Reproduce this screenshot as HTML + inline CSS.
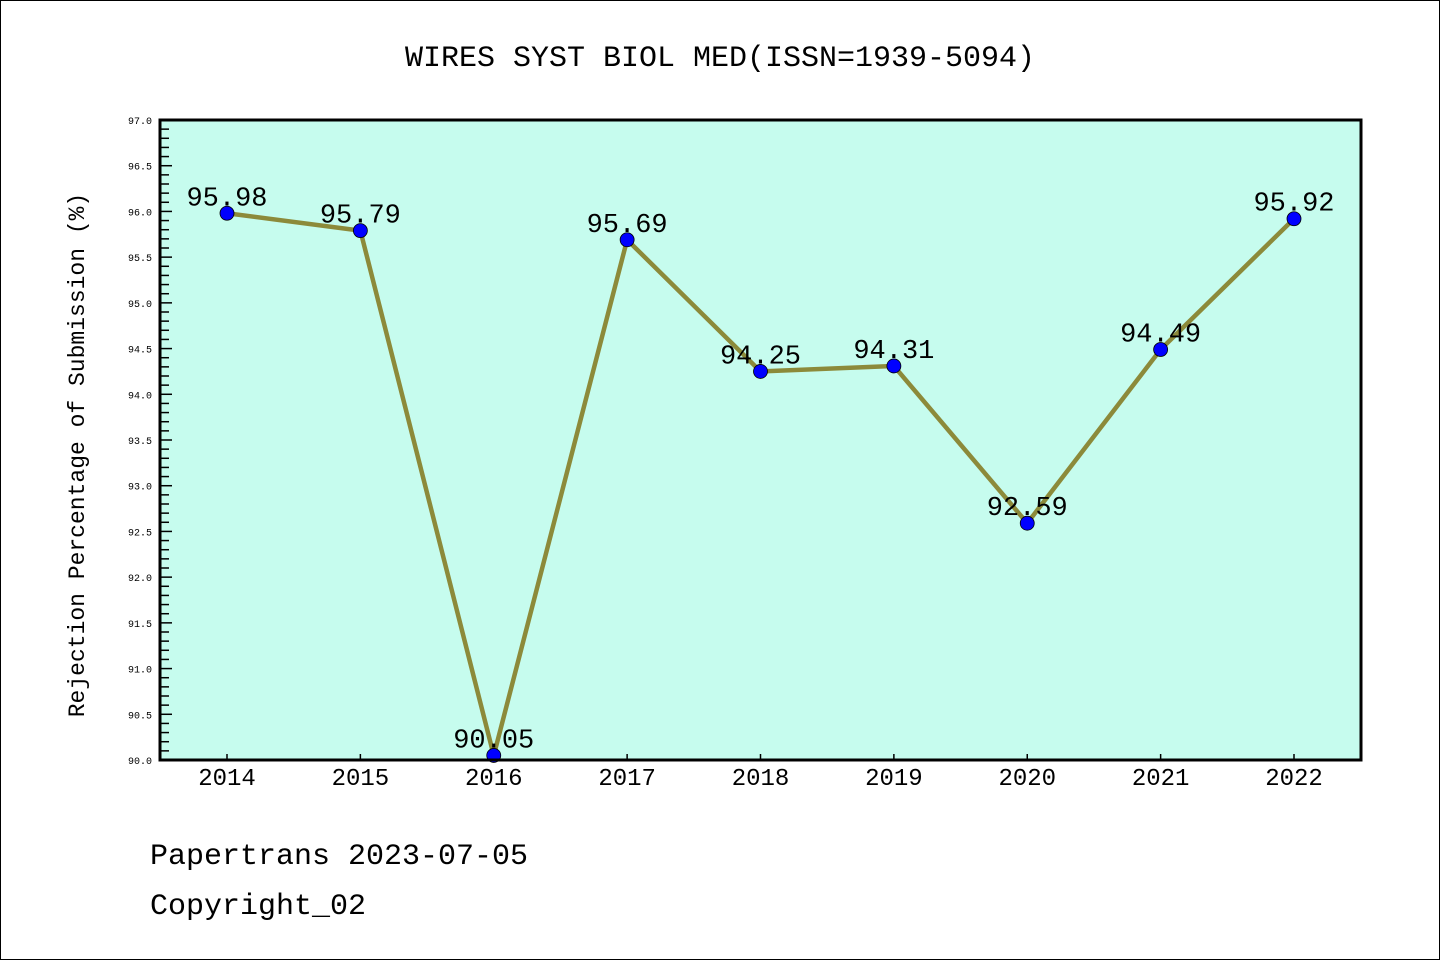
<!DOCTYPE html>
<html><head><meta charset="utf-8"><style>
body{margin:0;background:#fff}
svg text{font-family:"Liberation Mono","DejaVu Sans Mono",monospace}
</style></head><body>
<svg id="chart" width="1440" height="960" xmlns="http://www.w3.org/2000/svg">
<rect x="0.5" y="0.5" width="1439" height="959" fill="#fff" stroke="#000"/>
<text x="720" y="66" font-size="30" text-anchor="middle">WIRES SYST BIOL MED(ISSN=1939-5094)</text>
<rect x="160" y="120" width="1201" height="640" fill="#c6fcee"/>
<g id="ticks"></g>
<g id="series"></g>
<rect x="160" y="120" width="1201" height="640" fill="none" stroke="#000" stroke-width="3"/>
<text transform="translate(84,455) rotate(-90)" font-size="23" text-anchor="middle">Rejection Percentage of Submission (%)</text>
<text x="150" y="864" font-size="30">Papertrans 2023-07-05</text>
<text x="150" y="914" font-size="30">Copyright_02</text>
</svg>
<script>
const years=[2014,2015,2016,2017,2018,2019,2020,2021,2022];
const values=[95.98,95.79,90.05,95.69,94.25,94.31,92.59,94.49,95.92];
const valueLabels=["95.98","95.79","90.05","95.69","94.25","94.31","92.59","94.49","95.92"];
const yTicks=["90.0","90.5","91.0","91.5","92.0","92.5","93.0","93.5","94.0","94.5","95.0","95.5","96.0","96.5","97.0"];
const NS="http://www.w3.org/2000/svg";
const x0=160,x1=1361,y0=760,y1=120,ymin=90,ymax=97;
const xs=i=>227+i*(1294-227)/(years.length-1);
const ys=v=>y0-(v-ymin)/(ymax-ymin)*(y0-y1);
function mk(t,a,p){const e=document.createElementNS(NS,t);for(const k in a)e.setAttribute(k,a[k]);p.appendChild(e);return e;}
const tg=document.getElementById('ticks'),sg=document.getElementById('series');
for(let k=0;k<=70;k++){const v=ymin+k*0.1,y=ys(v),maj=k%5==0;
const l=mk('line',{x1:x0,x2:x0+(maj?12:9),y1:y,y2:y,stroke:'#000','stroke-width':1.5},tg);

}
yTicks.forEach(s=>{const t=mk('text',{x:152,y:ys(parseFloat(s))+4,'font-size':10,'text-anchor':'end','font-family':'Liberation Sans, sans-serif'},tg);t.textContent=s;

});
years.forEach((yr,i)=>{const l=mk('line',{x1:xs(i),x2:xs(i),y1:y0,y2:y0-6,stroke:'#000','stroke-width':1.5},tg);


const t=mk('text',{x:xs(i),y:785,'font-size':24,'text-anchor':'middle','font-family':'Liberation Sans, sans-serif'},tg);t.textContent=yr;

});
const pl=mk('polyline',{points:values.map((v,i)=>xs(i)+','+ys(v)).join(' '),fill:'none',stroke:'#8c8a3a','stroke-width':4.5,'stroke-linejoin':'round'},sg);


values.forEach((v,i)=>{const c=mk('circle',{cx:xs(i),cy:ys(v),r:7,fill:'#0000ff',stroke:'#000','stroke-width':0.8},sg);


const t=mk('text',{x:xs(i),y:ys(v)-8,'font-size':27,'text-anchor':'middle'},sg);t.textContent=valueLabels[i];

});
</script>
</body></html>
